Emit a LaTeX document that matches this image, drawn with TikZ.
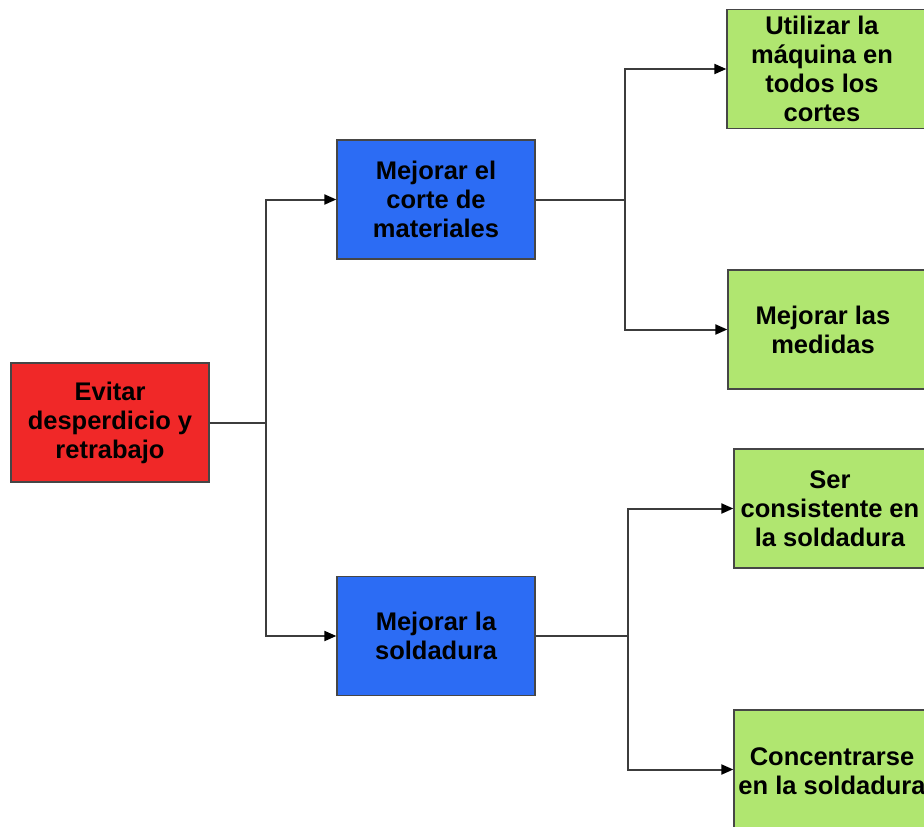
\documentclass[tikz,border=0pt]{standalone}
\usepackage{fontspec}
\setmainfont{Liberation Sans}
\usetikzlibrary{arrows.meta}
\definecolor{redfill}{RGB}{240,40,40}
\definecolor{bluefill}{RGB}{44,108,244}
\definecolor{greenfill}{RGB}{176,230,112}
\definecolor{edgegray}{RGB}{70,70,70}
\definecolor{linegray}{RGB}{60,60,60}
\begin{document}
\begin{tikzpicture}[x=1pt,y=-1pt,
  box/.style={draw=edgegray,line width=1.3pt,minimum width=198pt,minimum height=119pt,
    inner sep=0pt,align=center,font=\fontsize{25.5}{29}\selectfont\bfseries},
  redbox/.style={box,fill=redfill},
  bluebox/.style={box,fill=bluefill},
  greenbox/.style={box,fill=greenfill},
  gtxt/.style={align=center,inner sep=0pt,font=\fontsize{25.5}{29}\selectfont\bfseries},
  conn/.style={draw=linegray,line width=2pt},
  arr/.style={conn,-{Triangle[length=12pt,width=10pt,color=black]}}]
  \useasboundingbox (0,0) rectangle (924,827);

  % root and second level
  \node[redbox] (root) at (110,422.5) {Evitar\\desperdicio y\\retrabajo};
  \node[bluebox] (corte) at (436,199.5) {Mejorar el\\corte de\\materiales};
  \node[bluebox] (sold) at (436,636) {Mejorar la\\soldadura};

  % third level (boxes run past the right edge)
  \node[greenbox,label={[gtxt,xshift=-4pt]center:Utilizar la\\máquina en\\todos los\\cortes}] (g1) at (826,69) {};
  \node[greenbox,label={[gtxt,xshift=-4pt]center:Mejorar las\\medidas}] (g2) at (827,329.5) {};
  \node[greenbox,label={[gtxt,xshift=-3pt]center:Ser\\consistente en\\la soldadura}] (g3) at (833,508.5) {};
  \node[greenbox,label={[gtxt,xshift=-1pt,yshift=-2pt]center:Concentrarse\\en la soldadura}] (g4) at (833,769.5) {};

  % junction points
  \coordinate (j1) at (266,422.5);
  \coordinate (j2) at (625,199.5);
  \coordinate (j3) at (628,636);

  % connectors
  \draw[conn] (root.east) -- (j1);
  \draw[arr] (j1) |- (corte.west);
  \draw[arr] (j1) |- (sold.west);
  \draw[conn] (corte.east) -- (j2);
  \draw[arr] (j2) |- (g1.west);
  \draw[arr] (j2) |- (g2.west);
  \draw[conn] (sold.east) -- (j3);
  \draw[arr] (j3) |- (g3.west);
  \draw[arr] (j3) |- (g4.west);
\end{tikzpicture}
\end{document}
